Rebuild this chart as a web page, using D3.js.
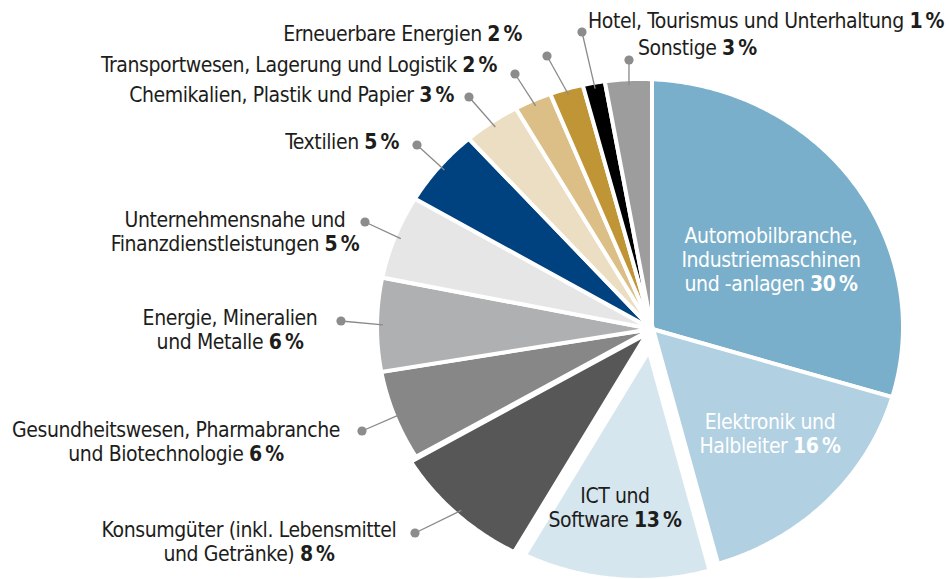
<!DOCTYPE html>
<html>
<head>
<meta charset="utf-8">
<script src="https://cdn.jsdelivr.net/npm/d3@7"></script>
<style>
  body { margin: 0; background: #fff; }
  svg { display: block; }
  text { font-family: "DejaVu Sans Condensed", "DejaVu Sans", sans-serif; font-stretch: condensed; font-size: 21px; }
</style>
</head>
<body>
<svg id="chart"></svg>
<script>
// sectors, clockwise from 12 o'clock
const sectors = [
  "Automobil", "Elektronik", "ICT", "Konsumgüter", "Gesundheit", "Energie",
  "Unternehmensdienste", "Textilien", "Chemikalien", "Transport", "Erneuerbare", "Hotel", "Sonstige"
];
// shares measured off the slice angles (%)
const shares = [29.4, 16.3, 13.0, 8.4, 5.4, 5.5, 5.0, 4.8, 3.4, 2.3, 2.1, 1.4, 3.0];
// printed percentages
const pctLabels = ["30", "16", "13", "8", "6", "6", "5", "5", "3", "2", "2", "1", "3"];
const labelLines = [
  ["Automobilbranche,", "Industriemaschinen", "und -anlagen"],
  ["Elektronik und", "Halbleiter"],
  ["ICT und", "Software"],
  ["Konsumgüter (inkl. Lebensmittel", "und Getränke)"],
  ["Gesundheitswesen, Pharmabranche", "und Biotechnologie"],
  ["Energie, Mineralien", "und Metalle"],
  ["Unternehmensnahe und", "Finanzdienstleistungen"],
  ["Textilien"],
  ["Chemikalien, Plastik und Papier"],
  ["Transportwesen, Lagerung und Logistik"],
  ["Erneuerbare Energien"],
  ["Hotel, Tourismus und Unterhaltung"],
  ["Sonstige"]
];
const colors = [
  "#7aafcb", "#b1d0e2", "#d6e6ef", "#575757", "#878787", "#afb0b2",
  "#e6e6e6", "#00427f", "#ecdec2", "#dbbf86", "#c09535", "#000000", "#9d9d9d"
];

// layout
const W = 949, H = 579;
const apex = [652, 329];
const ell = { cx: 640, cy: 327, rx: 263, ry: 248 };
const explode = { 2: 10, 3: 7 };
const lineH = 24;
const labelLayout = [
  { x: 771, y: 243, anchor: "middle", fill: "#fff" },
  { x: 770, y: 429, anchor: "middle", fill: "#fff" },
  { x: 615, y: 503, anchor: "middle" },
  { x: 249, y: 537, anchor: "middle", dot: [415, 533] },
  { x: 176, y: 437, anchor: "middle", dot: [362, 431] },
  { x: 230, y: 325, anchor: "middle", dot: [341, 321] },
  { x: 235, y: 227, anchor: "middle", dot: [365, 222] },
  { x: 399, y: 149, anchor: "end", dot: [417, 145] },
  { x: 454, y: 102, anchor: "end", dot: [469, 97] },
  { x: 497, y: 72, anchor: "end", dot: [515, 74] },
  { x: 522, y: 41, anchor: "end", dot: [547, 56] },
  { x: 588, y: 28, anchor: "start", dot: [582, 32] },
  { x: 638, y: 55, anchor: "start", dot: [629, 60] }
];

const svg = d3.select("#chart").attr("width", W).attr("height", H);

const arcs = d3.pie().sort(null).value(d => d)(shares);

// point where the ray from the apex meets the outer rim
function rim(theta, inset = 0) {
  const dx = Math.sin(theta), dy = -Math.cos(theta);
  const ax = (apex[0] - ell.cx) / ell.rx, ay = (apex[1] - ell.cy) / ell.ry;
  const ux = dx / ell.rx, uy = dy / ell.ry;
  const a = ux * ux + uy * uy, b = 2 * (ax * ux + ay * uy), c = ax * ax + ay * ay - 1;
  const t = (-b + Math.sqrt(b * b - 4 * a * c)) / (2 * a) - inset;
  return [apex[0] + t * dx, apex[1] + t * dy];
}

const line = d3.line();
function slicePath(a) {
  const pts = [apex];
  const n = Math.max(2, Math.ceil((a.endAngle - a.startAngle) / 0.01));
  for (let i = 0; i <= n; i++) pts.push(rim(a.startAngle + (a.endAngle - a.startAngle) * i / n));
  return line(pts) + "Z";
}
function offset(a, i) {
  const d = explode[i] || 0, m = (a.startAngle + a.endAngle) / 2;
  return [d * Math.sin(m), -d * Math.cos(m)];
}

// ICT drawn last so its wide white edge sits on top
const order = d3.range(arcs.length).filter(i => i !== 2).concat([2]);

svg.append("g").selectAll("path")
  .data(order)
  .join("path")
  .attr("d", i => slicePath(arcs[i]))
  .attr("transform", i => `translate(${offset(arcs[i], i)})`)
  .attr("fill", i => colors[i])
  .attr("stroke", "#fff")
  .attr("stroke-width", i => i === 2 ? 14 : 4);

// leaders
const outside = d3.range(arcs.length).filter(i => labelLayout[i].dot);
const leaders = svg.append("g");
leaders.selectAll("line")
  .data(outside)
  .join("line")
  .attr("x1", i => labelLayout[i].dot[0])
  .attr("y1", i => labelLayout[i].dot[1])
  .attr("x2", i => rim((arcs[i].startAngle + arcs[i].endAngle) / 2, 6)[0] + offset(arcs[i], i)[0])
  .attr("y2", i => rim((arcs[i].startAngle + arcs[i].endAngle) / 2, 6)[1] + offset(arcs[i], i)[1])
  .attr("stroke", "#8a8a8a")
  .attr("stroke-width", 1.3);
leaders.selectAll("circle")
  .data(outside)
  .join("circle")
  .attr("cx", i => labelLayout[i].dot[0])
  .attr("cy", i => labelLayout[i].dot[1])
  .attr("r", 4.6)
  .attr("fill", "#8c8c8c");

// labels
const labels = svg.append("g").selectAll("text")
  .data(d3.range(sectors.length))
  .join("text")
  .attr("text-anchor", i => labelLayout[i].anchor)
  .attr("fill", i => labelLayout[i].fill || "#1d1d1b")
  .attr("letter-spacing", "-0.4px");

labels.each(function(i) {
  const t = d3.select(this), L = labelLayout[i];
  labelLines[i].forEach((s, k) => {
    const last = k === labelLines[i].length - 1;
    t.append("tspan").attr("x", L.x).attr("y", L.y + k * lineH).text(last ? s + " " : s);
    if (last) {
      t.append("tspan").attr("font-weight", "bold").text(pctLabels[i] + "\u2009%");
    }
  });
});
</script>
</body>
</html>
